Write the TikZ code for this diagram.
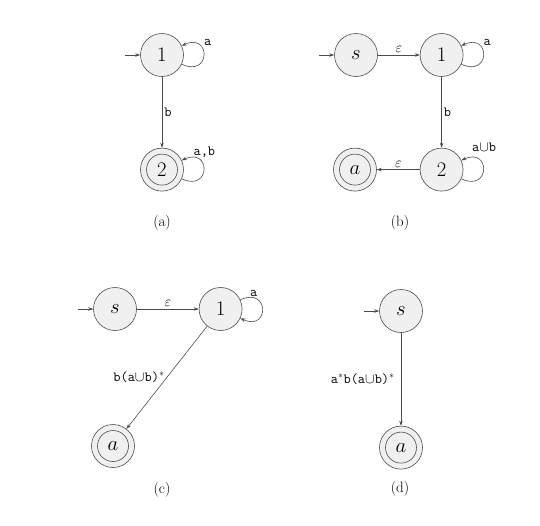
\documentclass[tikz,border=0pt]{standalone}
\usepackage{amsmath,amssymb}
\usetikzlibrary{arrows.meta,positioning}

\begin{document}
\begin{tikzpicture}[
    x=1pt, y=-1pt,
    state/.style={draw=black!70, circle, fill=gray!12, minimum size=43pt, inner sep=0pt, line width=0.6pt, font=\fontsize{20}{24}\selectfont},
    accept/.style={state, path picture={\draw[black!70, line width=0.6pt] (path picture bounding box.center) circle (15.5pt);}},
    lbl/.style={font=\ttfamily\fontsize{14}{16}\selectfont, inner sep=2pt},
    subcap/.style={font=\fontsize{15}{18}\selectfont},
    arr/.style={->, draw=black!70, line width=0.6pt},
    loopy/.style={loop, out=-25, in=25, looseness=4.5, min distance=0pt},
    >={Stealth[length=5pt, width=3.5pt]},
    node distance=1.2cm
]
    \useasboundingbox (0,0) rectangle (540,525);

    % (a)
    \node[state] (a1) at (162,55) {$1$};
    \node[accept, below=71pt of a1] (a2) {$2$};
    \coordinate[left=15pt of a1] (a0);
    \node[subcap] (capa) at (162,223) {(a)};

    \draw[arr] (a0) -- (a1);
    \draw[arr] (a1) -- node[lbl, right] {b} (a2);
    \draw[arr] (a1) to[loopy] node[lbl, pos=0.65, anchor=south west] {a} (a1);
    \draw[arr] (a2) to[loopy] node[lbl, pos=0.75, anchor=south west, xshift=-7pt] {a,b} (a2);

    % (b)
    \node[state] (bs) at (356,55) {$s$};
    \node[state, right=42pt of bs] (b1) {$1$};
    \node[state, below=71pt of b1] (b2) {$2$};
    \node[accept, left=43pt of b2] (bf) {$a$};
    \coordinate[left=15pt of bs] (b0);
    \node[subcap] (capb) at (400,223) {(b)};

    \draw[arr] (b0) -- (bs);
    \draw[arr] (bs) -- node[lbl, above] {$\varepsilon$} (b1);
    \draw[arr] (b1) -- node[lbl, right] {b} (b2);
    \draw[arr] (b2) -- node[lbl, above] {$\varepsilon$} (bf);
    \draw[arr] (b1) to[loopy] node[lbl, pos=0.65, anchor=south west] {a} (b1);
    \draw[arr] (b2) to[loopy] node[lbl, pos=0.75, anchor=south west, xshift=-8pt, yshift=6pt] {a$\cup$b} (b2);

    % (c)
    \node[state] (cs) at (115,309) {$s$};
    \node[state, right=62pt of cs] (c1) {$1$};
    \node[accept] (cf) at (113,446) {$a$};
    \coordinate[left=15pt of cs] (c0);
    \node[subcap] (capc) at (162,490) {(c)};

    \draw[arr] (c0) -- (cs);
    \draw[arr] (cs) -- node[lbl, above] {$\varepsilon$} (c1);
    \draw[arr] (c1) -- node[lbl, left] {b(a$\cup$b)$^*$} (cf);
    \draw[arr] (c1) to[loopy, out=25, in=-25] node[lbl, pos=0.25, anchor=south west, xshift=-9pt] {a} (c1);

    % (d)
    \node[state] (ds) at (401,311) {$s$};
    \node[accept, below=93pt of ds] (df) {$a$};
    \coordinate[left=15pt of ds] (d0);
    \node[subcap] (capd) at (400,489) {(d)};

    \draw[arr] (d0) -- (ds);
    \draw[arr] (ds) -- node[lbl, left, xshift=-4pt] {a$^*$b(a$\cup$b)$^*$} (df);
\end{tikzpicture}
\end{document}
